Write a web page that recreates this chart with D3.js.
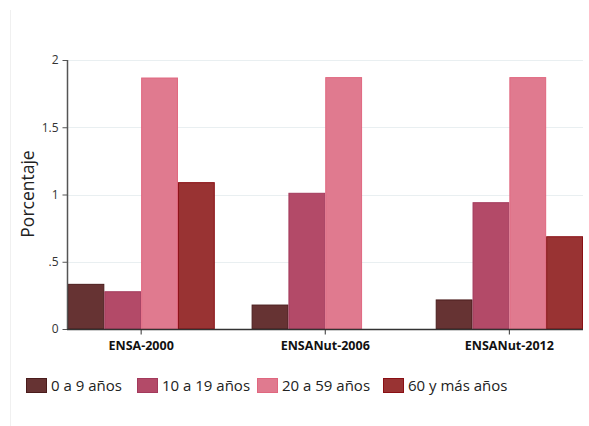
<!DOCTYPE html>
<html>
<head>
<meta charset="utf-8">
<script src="https://cdn.jsdelivr.net/npm/d3@7"></script>
<style>
  html, body { margin: 0; padding: 0; background: #fff; }
  svg { display: block; font-family: "Open Sans", "DejaVu Sans", sans-serif; }
</style>
</head>
<body>
<svg id="chart" width="589" height="426"></svg>
<script>
const categories = ["ENSA-2000", "ENSANut-2006", "ENSANut-2012"];
const seriesNames = ["0 a 9 años", "10 a 19 años", "20 a 59 años", "60 y más años"];
const s0to9 = [0.332, 0.178, 0.216];
const s10to19 = [0.277, 1.009, 0.939];
const s20to59 = [1.866, 1.869, 1.869];
const s60plus = [1.088, null, 0.686];
const yTicks = [0, 0.5, 1, 1.5, 2];
const yTickLabels = ["0", ".5", "1", "1.5", "2"];
const fills = ["#663333", "#b34a68", "#e07a8f", "#993333"];
const strokes = ["#4a1c1c", "#a33a5c", "#e0677f", "#8a0f14"];

const seriesValues = [s0to9, s10to19, s20to59, s60plus];

const svg = d3.select("#chart");
const W = 589, H = 426;
const m = { left: 67, right: 6, top: 60, bottom: 97 };
const x0 = m.left, x1 = W - m.right, yTop = m.top, yBot = H - m.bottom;

// faint frame line
svg.append("line").attr("x1", 10.5).attr("x2", 10.5).attr("y1", 10).attr("y2", H)
  .attr("stroke", "#f0f0f0").attr("stroke-width", 1);

const y = d3.scaleLinear().domain([0, 2]).range([yBot, yTop]);
const xg = d3.scaleBand().domain(categories).range([x0 + 0.5, x1]).paddingInner(0.2).paddingOuter(0);
const xs = d3.scaleBand().domain(d3.range(seriesNames.length)).range([0, xg.bandwidth()]).padding(0);

// gridlines
svg.append("g").selectAll("line").data(yTicks.filter(t => t > 0)).join("line")
  .attr("x1", x0).attr("x2", x1)
  .attr("y1", d => Math.round(y(d)) + 0.5).attr("y2", d => Math.round(y(d)) + 0.5)
  .attr("stroke", "#e9eff1").attr("stroke-width", 1);

// bars
const gBars = svg.append("g");
categories.forEach((c, ci) => {
  seriesValues.forEach((vals, si) => {
    const v = vals[ci];
    if (v == null) return;
    gBars.append("rect")
      .attr("x", xg(c) + xs(si) + 0.5)
      .attr("y", y(v))
      .attr("width", xs.bandwidth() - 1)
      .attr("height", y(0) - y(v))
      .attr("fill", fills[si])
      .attr("stroke", strokes[si])
      .attr("stroke-width", 1);
  });
});

// y axis
const yAxis = d3.axisLeft(y).tickValues(yTicks).tickFormat((d, i) => yTickLabels[i]).tickSize(5).tickPadding(4);
const gy = svg.append("g").attr("transform", `translate(${x0 + 0.5},0)`).call(yAxis);
gy.select(".domain").attr("stroke", "#555").attr("stroke-width", 1.5).attr("d", `M0,${yTop}V${yBot}`);
gy.selectAll(".tick line").attr("stroke", "#555");
gy.selectAll(".tick text").attr("fill", "#333").style("font-size", "12px").style("font-family", "'Open Sans', sans-serif");

// x axis
const xAxis = d3.axisBottom(xg).tickSize(5).tickPadding(7);
const gx = svg.append("g").attr("transform", `translate(0,${yBot + 0.5})`).call(xAxis);
gx.select(".domain").attr("stroke", "#333").attr("stroke-width", 1.5).attr("d", `M${x0},0H${x1}`);
gx.selectAll(".tick line").attr("stroke", "#333");
gx.selectAll(".tick text").attr("fill", "#111").style("font-size", "12.5px").style("font-weight", "bold")
  .style("font-family", "'Open Sans', sans-serif");

// y title
svg.append("text").attr("transform", `translate(34,194) rotate(-90)`)
  .attr("text-anchor", "middle").attr("fill", "#222").style("font-size", "17.5px").text("Porcentaje");

// legend
const legX = [26, 137, 257, 383];
const lg = svg.append("g");
seriesNames.forEach((n, i) => {
  lg.append("rect").attr("x", legX[i] + 0.5).attr("y", 378.5).attr("width", 20).attr("height", 14)
    .attr("fill", fills[i]).attr("stroke", strokes[i]);
  lg.append("text").attr("x", legX[i] + 25).attr("y", 386).attr("dy", "0.35em")
    .attr("fill", "#222").style("font-size", "15px").text(n);
});
</script>
</body>
</html>
